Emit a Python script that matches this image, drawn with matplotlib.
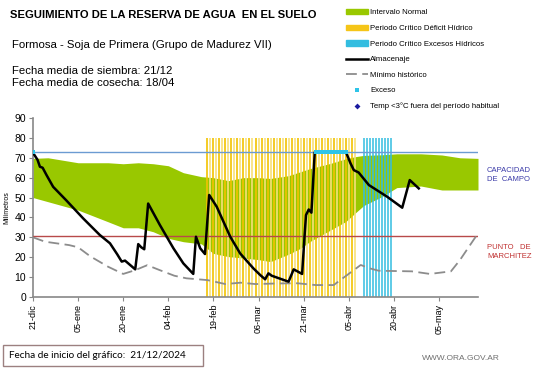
import numpy as np
import matplotlib
matplotlib.use("Agg")
import matplotlib.pyplot as plt
from matplotlib.lines import Line2D
from matplotlib.patches import Patch, Rectangle

plt.rcParams['font.family'] = ['Liberation Sans', 'DejaVu Sans']

# days counted from 21-dic
tick_days = [0, 15, 30, 45, 60, 75, 90, 105, 120, 135]
tick_labels = ["21-dic", "05-ene", "20-ene", "04-feb", "19-feb", "06-mar",
               "21-mar", "05-abr", "20-abr", "05-may"]

# normal interval (green band)
band_days = [0, 5, 15, 25, 30, 35, 40, 45, 50, 56, 60, 65, 70, 75, 79, 85, 89,
             92, 99, 104, 107, 110, 116, 121, 129, 136, 142, 148]
band_upper = [69.7, 70, 67.5, 67.5, 67, 67.5, 67, 66, 62.5, 60.5, 60, 58.5, 60,
              60, 59.6, 61, 63, 64.5, 67.2, 69.5, 70.5, 71.2, 71.5, 72, 72, 71.4,
              70, 69.7]
band_lower = [50, 47.9, 43.7, 37.8, 34.8, 34.8, 32.8, 29.5, 27.8, 26.7, 21.9,
              20.3, 19.6, 18.8, 17.8, 21.5, 24.5, 27.8, 33.7, 37.9, 42, 46, 50.4,
              55, 55.8, 53.8, 53.8, 53.8]

# historic minimum
min_days = [0, 4, 12, 15, 19, 25, 30, 34, 38, 42, 47, 51, 58, 64, 69, 74, 81,
            88, 94, 100, 103, 109, 112, 115, 126, 132, 139, 142, 148]
min_vals = [30, 27.8, 26.1, 25, 20.5, 15.2, 11.6, 13.5, 16, 13.6, 10.7, 9.4,
            8.5, 6.5, 7.2, 6.5, 6.8, 6.9, 6, 6, 9.4, 16.1, 14.4, 13.2, 12.9,
            11.6, 12.9, 18.6, 32]

# storage (almacenaje)
alm_days = [0, 1.5, 2.3, 3.2, 4.5, 6.7, 11, 16.7, 22.2, 25.6, 28, 29.5, 30.6,
            34, 35, 36, 37, 38.3, 42.2, 46.7, 50, 53.3, 54.2, 55.6, 57.2, 58.6,
            61.1, 65.6, 68.9, 73.3, 75.6, 77.2, 78.3, 79.4, 85, 86.7, 89.5,
            90.3, 90.8, 91.7, 92.6, 93.7, 104.1, 105.6, 106.7, 108.3, 111.7,
            117.8, 122.8, 125.3, 128.3]
alm_vals = [72.5, 69, 65.5, 65, 61.3, 55.4, 48.7, 39.5, 31.2, 27, 21.5, 17.8,
            18.3, 13.9, 26.6, 25, 24, 47, 36.2, 24.5, 16.9, 11.6, 30.3, 24.5,
            21.6, 51.3, 45.4, 30.3, 21.9, 14.4, 11, 8.9, 11.9, 10.7, 7.7, 13.9,
            11.6, 30.3, 41.2, 44, 42.4, 72.8, 72.8, 67.2, 63.8, 62.6, 56.3,
            50.4, 44.9, 58.8, 54.6]

# excess days
exc_days = [0, 94, 95, 96, 97, 98, 99, 100, 101, 102, 103, 104]
exc_vals = [73] * len(exc_days)

# critical periods
deficit_days = np.arange(58, 108)
excess_period_days = np.arange(110, 120)
period_top = 80

capacidad = 73
marchitez = 30.8

fig = plt.figure(figsize=(5.41, 3.68), dpi=100)
ax = fig.add_axes([33 / 541, 1 - 297 / 368, 445 / 541, 179 / 368])

ax.fill_between(band_days, band_lower, band_upper, color='#99c800', lw=0, zorder=1)

ycols = ['#f2c200' if d % 2 == 0 else '#f7e07a' for d in deficit_days]
ax.vlines(deficit_days, 0, period_top, colors=ycols, lw=1.2, zorder=2)
ax.vlines(excess_period_days, 0, period_top, colors='#33bde0', lw=1.1, zorder=2)

ax.axhline(capacidad, color='#6b9bd2', lw=1, zorder=3)
ax.axhline(marchitez, color='#b84a4a', lw=1, zorder=3)

ax.plot(min_days, min_vals, color='#8c8c8c', lw=1.3, dashes=(6, 3), zorder=4)
ax.plot(alm_days, alm_vals, color='black', lw=1.8, zorder=5)
ax.plot(exc_days, exc_vals, 's', color='#2ec4e8', ms=2.5, mew=0, zorder=6)

ax.set_xlim(0, 148)
ax.set_ylim(0, 90)
ax.set_yticks(range(0, 91, 10))
ax.set_xticks(tick_days)
ax.set_xticklabels(tick_labels, rotation=90, fontsize=6.5)
ax.tick_params(axis='y', labelsize=7.5, length=3, color='#888888', pad=2)
ax.tick_params(axis='x', length=3, color='#888888', pad=2)
for s in ['top', 'right']:
    ax.spines[s].set_visible(False)
for s in ['left', 'bottom']:
    ax.spines[s].set_color('#888888')
    ax.spines[s].set_linewidth(1.2)
ax.set_ylabel('Milímetros', fontsize=5, labelpad=3)

ax.text(1.02, 61.3, 'CAPACIDAD\nDE  CAMPO', transform=ax.get_yaxis_transform(),
        color='#3a3aa8', fontsize=5.5, va='center', ha='left', linespacing=1.3)
ax.text(1.02, 22.6, 'PUNTO   DE\nMARCHITEZ', transform=ax.get_yaxis_transform(),
        color='#c03030', fontsize=5.5, va='center', ha='left', linespacing=1.3)

fig.text(10 / 541, 1 - 15 / 368, 'SEGUIMIENTO DE LA RESERVA DE AGUA  EN EL SUELO',
         fontsize=8.1, fontweight='bold', va='center')
fig.text(12 / 541, 1 - 45 / 368, 'Formosa - Soja de Primera (Grupo de Madurez VII)',
         fontsize=8.2, va='center')
fig.text(12 / 541, 1 - 71.5 / 368, 'Fecha media de siembra: 21/12',
         fontsize=8.2, va='center')
fig.text(12 / 541, 1 - 83 / 368, 'Fecha media de cosecha: 18/04',
         fontsize=8.2, va='center')

handles = [
    Patch(color='#99c800'),
    Patch(color='#f5c518'),
    Patch(color='#33bde0'),
    Line2D([], [], color='black', lw=1.8),
    Line2D([], [], color='#8c8c8c', lw=1.3, dashes=(6, 3)),
    Line2D([], [], ls='none', marker='s', color='#2ec4e8', ms=2.5, mew=0),
    Line2D([], [], ls='none', marker='D', color='#1a1aa0', ms=3, mew=0),
]
labels = ['Intervalo Normal', 'Periodo Crítico Déficit Hídrico',
          'Periodo Crítico Excesos Hídricos', 'Almacenaje', 'Mínimo histórico',
          'Exceso', 'Temp <3°C fuera del período habitual']
fig.legend(handles, labels, loc='upper left', bbox_to_anchor=(346 / 541, 1 - 9 / 368),
           frameon=False, fontsize=5.6, handlelength=2.8, handleheight=0.7,
           handletextpad=0.3, labelspacing=1.05, borderaxespad=0, borderpad=0)

fig.patches.append(Rectangle((3 / 541, 1 - 366 / 368), 200 / 541, 21 / 368,
                             transform=fig.transFigure, fill=False,
                             edgecolor='#9c8080', lw=1))
fig.text(9 / 541, 1 - 355.5 / 368, 'Fecha de inicio del gráfico:  21/12/2024',
         fontsize=7.2, family=['Lato', 'DejaVu Sans'], va='center')
fig.text(500 / 541, 1 - 359 / 368, 'WWW.ORA.GOV.AR', fontsize=6,
         color='#707070', ha='right', va='center')

fig.savefig('out.png', dpi=100)
